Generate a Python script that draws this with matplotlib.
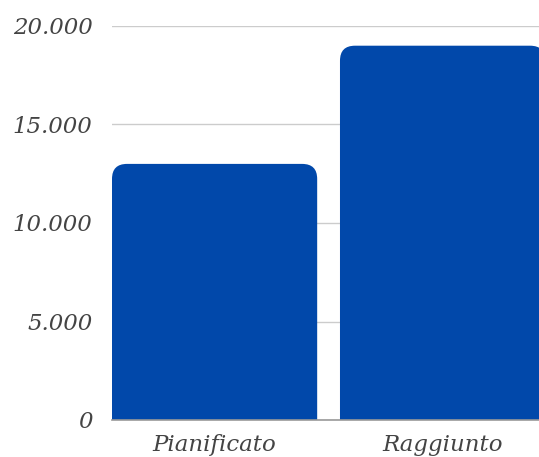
import matplotlib
matplotlib.use('Agg')
import matplotlib.pyplot as plt
from matplotlib.patches import FancyBboxPatch
from matplotlib.ticker import FuncFormatter

categories = ['Pianificato', 'Raggiunto']
values = [13000, 19000]
yticks = [0, 5000, 10000, 15000, 20000]

bar_color = '#0148AA'
text_color = '#444444'

fig = plt.figure(figsize=(5.39, 4.57), dpi=100)
ax = fig.add_axes([112 / 539, 1 - 420 / 457, 1 - 112 / 539, (420 - 26) / 457])

ax.set_xlim(-0.45, 1.423)
ax.set_ylim(0, 20000)

# pixel sizes in data units, for the rounded tops
x_per_px = (1.423 + 0.45) / (539 - 112)
y_per_px = 20000 / (420 - 26)
radius = 15 * x_per_px
width = 0.9

for i, v in enumerate(values):
    # start below zero so only the top corners show rounded
    p = FancyBboxPatch((i - width / 2, -2000), width, v + 2000,
                       boxstyle='round,pad=0,rounding_size=%f' % radius,
                       mutation_aspect=y_per_px / x_per_px,
                       facecolor=bar_color, edgecolor='none', zorder=3)
    ax.add_patch(p)

ax.set_xticks(range(len(categories)))
ax.set_xticklabels(categories)
ax.set_yticks(yticks)
ax.yaxis.set_major_formatter(FuncFormatter(lambda v, pos: '{:,.0f}'.format(v).replace(',', '.')))

for s in ['top', 'right', 'left']:
    ax.spines[s].set_visible(False)
ax.spines['bottom'].set_color('#999999')
ax.spines['bottom'].set_linewidth(1.2)
ax.spines['bottom'].set_zorder(4)

ax.grid(axis='y', color='#cccccc', linewidth=1, zorder=0)
ax.set_axisbelow(True)
ax.tick_params(length=0)
ax.tick_params(axis='y', pad=14)
ax.tick_params(axis='x', pad=10)
for lab in ax.get_xticklabels() + ax.get_yticklabels():
    lab.set_family('DejaVu Serif')
    lab.set_style('italic')
    lab.set_fontsize(16.5)
    lab.set_color(text_color)

fig.savefig('out.png', dpi=100)
